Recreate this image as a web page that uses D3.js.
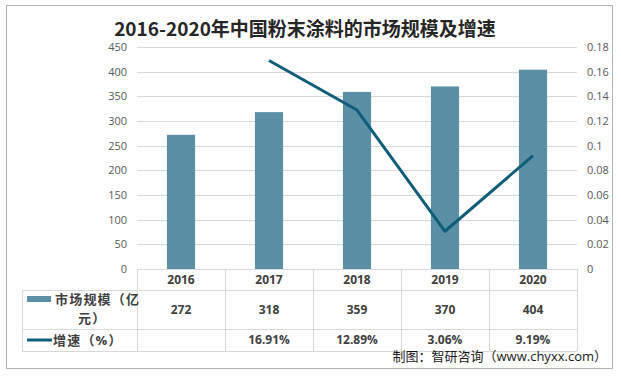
<!DOCTYPE html>
<html>

<head>
    <meta charset="UTF-8">
    <title>D3.js</title>
    <style type="text/css">
        body {
            margin: 0;
            background: #fff;
        }

        svg text {
            font-family: "Open Sans", "Noto Sans CJK SC", sans-serif;
        }

        .axis text {
            font-size: 11px;
            fill: #595959;
        }

        .axis line {
            stroke: #d9d9d9;
            shape-rendering: crispEdges;
        }

        .axis path {
            display: none;
        }

        .cell {
            font-size: 12px;
            font-weight: bold;
            fill: #404040;
            text-anchor: middle;
        }

        .legend-text {
            font-size: 13px;
            letter-spacing: 1.2px;
            text-anchor: start;
        }

        .grid-line {
            stroke: #d9d9d9;
            shape-rendering: crispEdges;
        }
    </style>
    <script src="https://d3js.org/d3.v7.min.js"></script>
</head>

<body>
    <script type="text/javascript">
        // chart data
        const years = ["2016", "2017", "2018", "2019", "2020"];
        const marketSize = [272, 318, 359, 370, 404];          // 亿元
        const growthRate = [null, 0.1691, 0.1289, 0.0306, 0.0919];
        const leftTicks = [0, 50, 100, 150, 200, 250, 300, 350, 400, 450];
        const rightTicks = [0, 0.02, 0.04, 0.06, 0.08, 0.1, 0.12, 0.14, 0.16, 0.18];

        const W = 621, H = 378;
        const plot = { left: 137, right: 577, top: 47, bottom: 269 };

        const svg = d3.select("body")
            .append("svg")
            .attr("width", W)
            .attr("height", H);

        // outer frame
        svg.append("rect")
            .attr("x", 6.5).attr("y", 5.5)
            .attr("width", 606).attr("height", 363)
            .attr("fill", "#fff")
            .attr("stroke", "#b4b4b4");

        // title
        svg.append("text")
            .attr("x", 305)
            .attr("y", 36)
            .attr("text-anchor", "middle")
            .style("font-family", "'Noto Sans CJK SC', sans-serif")
            .style("font-size", "19px")
            .style("font-weight", "bold")
            .style("fill", "#262626")
            .text("2016-2020年中国粉末涂料的市场规模及增速");

        // scales
        const x = d3.scaleBand()
            .domain(years)
            .range([plot.left, plot.right]);

        const yL = d3.scaleLinear()
            .domain([0, 450])
            .range([plot.bottom, plot.top]);

        const yR = d3.scaleLinear()
            .domain([0, 0.18])
            .range([plot.bottom, plot.top]);

        // left axis with gridlines
        const gL = svg.append("g")
            .attr("class", "axis")
            .attr("transform", `translate(${plot.left},0)`)
            .call(d3.axisLeft(yL)
                .tickValues(leftTicks)
                .tickSize(-(plot.right - plot.left))
                .tickPadding(10)
                .tickFormat(d => d));
        gL.selectAll(".tick").filter(d => d === 0).select("line").remove();

        // right axis (labels only)
        svg.append("g")
            .attr("class", "axis")
            .attr("transform", `translate(${plot.right},0)`)
            .call(d3.axisRight(yR)
                .tickValues(rightTicks)
                .tickSize(0)
                .tickPadding(10)
                .tickFormat(d => String(+d.toFixed(2))));

        // bars
        const barW = x.bandwidth() * 0.32;
        svg.append("g")
            .selectAll("rect")
            .data(years)
            .join("rect")
            .attr("x", d => x(d) + (x.bandwidth() - barW) / 2)
            .attr("y", (d, i) => yL(marketSize[i]))
            .attr("width", barW)
            .attr("height", (d, i) => yL(0) - yL(marketSize[i]))
            .attr("fill", "#5b8fa6");

        // growth line (no value for 2016)
        const linePts = years.map((d, i) => ({ year: d, v: growthRate[i] }))
            .filter(d => d.v !== null);

        const line = d3.line()
            .x(d => x(d.year) + x.bandwidth() / 2)
            .y(d => yR(d.v));

        svg.append("path")
            .datum(linePts)
            .attr("fill", "none")
            .attr("stroke", "#0f5e79")
            .attr("stroke-width", 3)
            .attr("stroke-linejoin", "round")
            .attr("d", line);

        // data table below the plot
        const tableLeft = 22;
        const rows = [plot.bottom, 290, 329.5, 351];
        const table = svg.append("g");

        // horizontal lines
        table.append("line").attr("class", "grid-line")
            .attr("x1", plot.left).attr("x2", plot.right)
            .attr("y1", rows[0] + 0.5).attr("y2", rows[0] + 0.5);
        rows.slice(1).forEach(r => {
            table.append("line").attr("class", "grid-line")
                .attr("x1", tableLeft).attr("x2", plot.right)
                .attr("y1", r).attr("y2", r);
        });

        // vertical lines
        const colEdges = years.map(d => x(d)).concat([plot.right]);
        colEdges.forEach(cx => {
            table.append("line").attr("class", "grid-line")
                .attr("x1", cx + 0.5).attr("x2", cx + 0.5)
                .attr("y1", rows[0]).attr("y2", rows[3]);
        });
        table.append("line").attr("class", "grid-line")
            .attr("x1", tableLeft + 0.5).attr("x2", tableLeft + 0.5)
            .attr("y1", rows[1]).attr("y2", rows[3]);

        // year row
        table.selectAll(".yr")
            .data(years)
            .join("text")
            .attr("class", "cell")
            .attr("x", d => x(d) + x.bandwidth() / 2)
            .attr("y", 284)
            .text(d => d);

        // market size row
        table.selectAll(".ms")
            .data(years)
            .join("text")
            .attr("class", "cell")
            .attr("x", d => x(d) + x.bandwidth() / 2)
            .attr("y", 314)
            .text((d, i) => marketSize[i]);

        // growth row
        table.selectAll(".gr")
            .data(years)
            .join("text")
            .attr("class", "cell")
            .attr("x", d => x(d) + x.bandwidth() / 2)
            .attr("y", 344)
            .text((d, i) => growthRate[i] === null ? "" : (growthRate[i] * 100).toFixed(2) + "%");

        // legend keys in the table
        table.append("rect")
            .attr("x", 27).attr("y", 296)
            .attr("width", 24).attr("height", 6)
            .attr("fill", "#5b8fa6");
        table.append("text")
            .attr("class", "cell legend-text")
            .attr("x", 55).attr("y", 304)
            .text("市场规模（亿");
        table.append("text")
            .attr("class", "cell legend-text")
            .attr("x", 78).attr("y", 323)
            .text("元）");

        table.append("line")
            .attr("x1", 27).attr("x2", 52)
            .attr("y1", 340).attr("y2", 340)
            .attr("stroke", "#0f5e79")
            .attr("stroke-width", 3);
        table.append("text")
            .attr("class", "cell legend-text")
            .attr("x", 53).attr("y", 345)
            .text("增速（%）");

        // source note
        svg.append("text")
            .attr("x", 607)
            .attr("y", 361)
            .attr("text-anchor", "end")
            .style("font-size", "13px")
            .style("fill", "#1a1a1a")
            .text("制图：智研咨询（www.chyxx.com）");
    </script>
</body>

</html>
